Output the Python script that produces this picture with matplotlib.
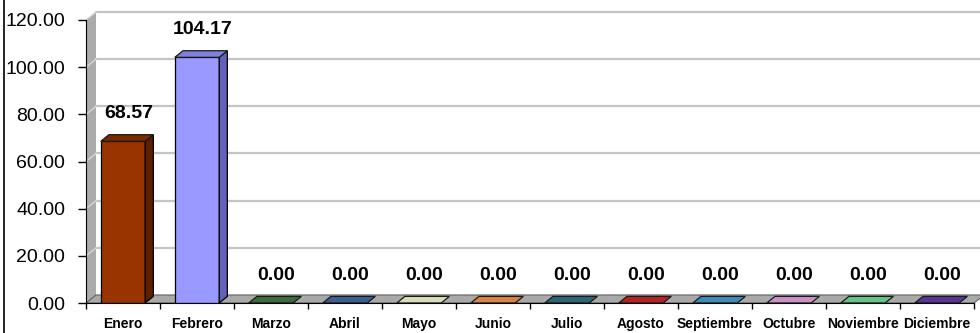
import numpy as np
import matplotlib
matplotlib.use('Agg')
from matplotlib import pyplot as plt
from matplotlib.patches import Polygon
from matplotlib.lines import Line2D

meses = ['Enero', 'Febrero', 'Marzo', 'Abril', 'Mayo', 'Junio', 'Julio',
         'Agosto', 'Septiembre', 'Octubre', 'Noviembre', 'Diciembre']
valores = [68.57, 104.17, 0.00, 0.00, 0.00, 0.00, 0.00, 0.00, 0.00, 0.00, 0.00, 0.00]
y_ticks = [0, 20, 40, 60, 80, 100, 120]

# colour per month: front, side, top
cara = ['#993300', '#9999ff', '#3c6b3c', '#3d5f90', '#d9dcb4', '#d98441',
        '#2c6675', '#b42222', '#3b8db5', '#c991c4', '#63c585', '#5a3494']
lado = ['#5c1f00', '#6262b8', '#234223', '#253a58', '#8a8c70', '#8a5228',
        '#1b3f48', '#701515', '#245770', '#7d5a79', '#3d7a52', '#38205c']
tapa = ['#7a2900', '#7f7fe0', '#3c6b3c', '#3d5f90', '#d9dcb4', '#d98441',
        '#2c6675', '#b42222', '#3b8db5', '#c991c4', '#63c585', '#5a3494']

FONT = ['Liberation Sans', 'DejaVu Sans']

# depth of the walls and of the bars, in data units
DX, DY = 0.135, 3.4
BDX, BDY = 0.11, 2.8
W = 0.6

fig = plt.figure(figsize=(9.8, 3.33), dpi=100)
ax = fig.add_axes([86 / 980, 30 / 333, 888 / 980, 283 / 333])
ax.set_xlim(-0.5, 11.5)
ax.set_ylim(0, 120)

x0 = -0.5
x1 = len(meses) - 0.5

# side wall and floor
ax.add_patch(Polygon([(x0, 0), (x0 + DX, DY), (x0 + DX, 120 + DY), (x0, 120)],
                     closed=True, facecolor='#ababab', edgecolor='none',
                     clip_on=False, zorder=1))
ax.add_patch(Polygon([(x0, 0), (x1, 0), (x1 + DX, DY), (x0 + DX, DY)],
                     closed=True, facecolor='#a9a9a9', edgecolor='#606060',
                     lw=0.8, clip_on=False, zorder=1))

# gridlines on back wall and side wall
for v in y_ticks[1:]:
    ax.plot([x0 + DX, x1 + DX + 1], [v + DY, v + DY], color='#c4c4c4',
            lw=1.6, clip_on=False, zorder=1.5)
    ax.plot([x0, x0 + DX], [v, v + DY], color='#d6d6d6', lw=1.0,
            clip_on=False, zorder=1.5)

# 3d bars
xs = np.arange(len(meses))
ax.bar(xs, valores, width=W, color=cara, edgecolor='black', lw=0.9, zorder=3)
for i, v in enumerate(valores):
    xl, xr = i - W / 2, i + W / 2
    if v > 0:
        ax.add_patch(Polygon([(xr, 0), (xr + BDX, BDY), (xr + BDX, v + BDY), (xr, v)],
                             closed=True, facecolor=lado[i], edgecolor='black',
                             lw=0.9, clip_on=False, zorder=3))
    ax.add_patch(Polygon([(xl, v), (xr, v), (xr + BDX, v + BDY), (xl + BDX, v + BDY)],
                         closed=True, facecolor=tapa[i], edgecolor='#1a1a1a',
                         lw=0.9, clip_on=False, zorder=3))
    ax.annotate(f'{v:.2f}', (i + BDX / 2, v + BDY), xytext=(1, 12),
                textcoords='offset points', ha='center', va='baseline',
                fontsize=14, fontweight='bold', family=FONT, zorder=5,
                annotation_clip=False)

# axes
for s in ['top', 'right']:
    ax.spines[s].set_visible(False)
ax.spines['left'].set_color('black')
ax.spines['bottom'].set_color('black')
ax.spines['left'].set_zorder(4)
ax.spines['bottom'].set_zorder(4)

ax.set_yticks(y_ticks)
ax.set_yticklabels([f'{v:.2f}' for v in y_ticks], family=FONT, fontsize=14)
ax.tick_params(axis='y', direction='out', length=6, width=1, pad=9)

ax.set_xticks(np.arange(len(meses) + 1) - 0.5)
ax.set_xticklabels([])
ax.set_xticks(xs, minor=True)
ax.set_xticklabels(meses, minor=True, family=FONT, fontsize=10, fontweight='bold')
ax.tick_params(axis='x', which='major', direction='out', length=4, width=1)
ax.tick_params(axis='x', which='minor', length=0, pad=10)

ax.set_facecolor('none')
fig.patch.set_facecolor('white')

# frame line on the left edge
fig.add_artist(Line2D([3.5 / 980, 3.5 / 980], [0, 1], color='black', lw=1.2))

fig.savefig('out.png', dpi=100)
